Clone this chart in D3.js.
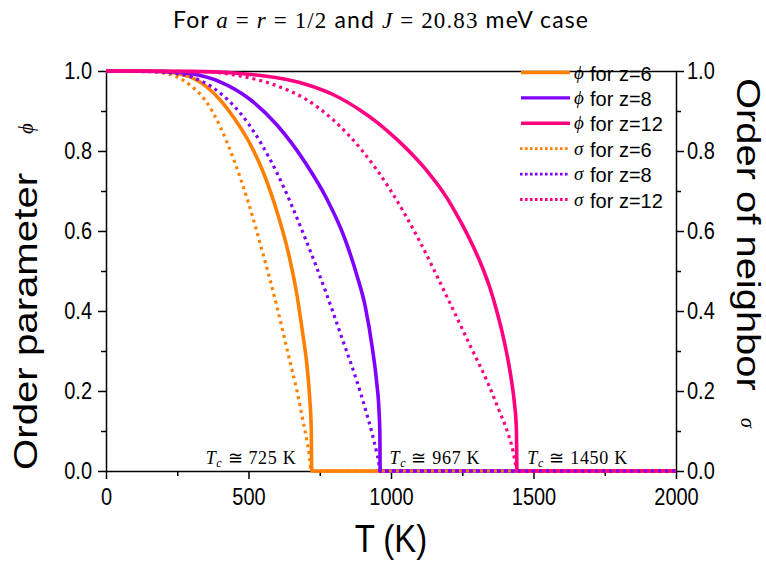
<!DOCTYPE html>
<html>
<head>
<meta charset="utf-8">
<script src="https://cdn.jsdelivr.net/npm/d3@7"></script>
<style>
body{margin:0;background:#fff;}
svg{display:block;}
.axis text{font-family:"Liberation Sans",Arial,sans-serif;font-size:20px;fill:#000;}
.axis path,.axis line{stroke:#000;stroke-width:1.5;}
</style>
</head>
<body>
<svg id="chart" width="766" height="561"></svg>
<script>
// values: [T in K, value]
const phiZ6 = [[0,1],[150,1],[200,0.998],[250,0.994],[300,0.984],[350,0.962],[400,0.928],[450,0.882],[500,0.825],[550,0.75],[600,0.648],[640,0.545],[670,0.44],[690,0.345],[705,0.265],[715,0.18],[720,0.11],[722,0],[2000,0]];
const sigmaZ6 = [[0,1],[150,0.999],[200,0.995],[250,0.985],[300,0.962],[350,0.925],[400,0.862],[450,0.775],[500,0.67],[550,0.545],[600,0.41],[640,0.29],[670,0.2],[690,0.13],[705,0.075],[715,0.03],[719,0],[2000,0]];
const phiZ8 = [[0,1],[200,0.999],[300,0.993],[400,0.973],[500,0.932],[600,0.865],[700,0.77],[775,0.68],[833,0.59],[880,0.49],[910,0.41],[935,0.305],[950,0.22],[958,0.15],[961,0.09],[962,0],[2000,0]];
const sigmaZ8 = [[0,1],[200,0.997],[300,0.985],[400,0.945],[500,0.868],[600,0.745],[700,0.58],[775,0.44],[833,0.322],[880,0.225],[910,0.155],[935,0.09],[950,0.045],[958,0.015],[960,0],[2000,0]];
const phiZ12 = [[0,1],[300,0.999],[450,0.995],[600,0.983],[700,0.967],[800,0.94],[900,0.898],[950,0.872],[1000,0.842],[1040,0.816],[1078,0.789],[1110,0.764],[1140,0.738],[1170,0.71],[1195,0.684],[1225,0.648],[1250,0.616],[1288,0.562],[1320,0.51],[1347,0.458],[1373,0.395],[1393,0.338],[1410,0.28],[1423,0.225],[1433,0.17],[1440,0.105],[1442,0],[2000,0]];
const sigmaZ12 = [[0,1],[350,0.998],[450,0.99],[600,0.963],[700,0.93],[800,0.876],[900,0.8],[1000,0.7],[1100,0.575],[1200,0.43],[1280,0.31],[1340,0.22],[1380,0.15],[1410,0.095],[1428,0.05],[1438,0.012],[1441,0],[2000,0]];

const tcValues = [725, 967, 1450];
const xMajor = [0, 500, 1000, 1500, 2000];
const xMinor = [250, 750, 1250, 1750];
const yMajor = [0, 0.2, 0.4, 0.6, 0.8, 1.0];
const yMinor = [0.1, 0.3, 0.5, 0.7, 0.9];

const orange = "#FF8000", purple = "#8000FF", pink = "#FF0080";
const series = [
    {data: phiZ6, color: orange, dotted: false, sym: "\u03D5", label: "for z=6"},
    {data: phiZ8, color: purple, dotted: false, sym: "\u03D5", label: "for z=8"},
    {data: phiZ12, color: pink, dotted: false, sym: "\u03D5", label: "for z=12"},
    {data: sigmaZ6, color: orange, dotted: true, sym: "\u03C3", label: "for z=6"},
    {data: sigmaZ8, color: purple, dotted: true, sym: "\u03C3", label: "for z=8"},
    {data: sigmaZ12, color: pink, dotted: true, sym: "\u03C3", label: "for z=12"}
];

const svg = d3.select('#chart');
const plotLeft = 106, plotRight = 676, plotTop = 71, plotBottom = 471;
const stretch = 1.15;
const serif = '"Liberation Serif","DejaVu Serif",serif';
const sans = '"Liberation Sans",Arial,sans-serif';

const x = d3.scaleLinear().domain([0, 2000]).range([plotLeft, plotRight]);
const y = d3.scaleLinear().domain([0, 1]).range([plotBottom, plotTop]);

// minor ticks
svg.append('g').attr('class','axis').attr('transform','translate(0,'+plotBottom+')')
    .call(d3.axisBottom(x).tickValues(xMinor).tickSize(5).tickFormat(''))
    .call(g => g.select('.domain').remove());
svg.append('g').attr('class','axis').attr('transform','translate('+plotLeft+',0)')
    .call(d3.axisLeft(y).tickValues(yMinor).tickSize(5).tickFormat(''))
    .call(g => g.select('.domain').remove());
svg.append('g').attr('class','axis').attr('transform','translate('+plotRight+',0)')
    .call(d3.axisRight(y).tickValues(yMinor).tickSize(5).tickFormat(''))
    .call(g => g.select('.domain').remove());

// major axes
svg.append('g').attr('class','axis').attr('transform','translate(0,'+plotBottom+')')
    .call(d3.axisBottom(x).tickValues(xMajor).tickSize(8).tickSizeOuter(0).tickPadding(7).tickFormat(d3.format('d')))
    .selectAll('text').attr('transform','scale(1,'+stretch+')');
svg.append('g').attr('class','axis').attr('transform','translate('+plotLeft+',0)')
    .call(d3.axisLeft(y).tickValues(yMajor).tickSize(8).tickSizeOuter(0).tickPadding(6).tickFormat(d3.format('.1f')))
    .selectAll('text').attr('transform','scale(1,'+stretch+')');
svg.append('g').attr('class','axis').attr('transform','translate('+plotRight+',0)')
    .call(d3.axisRight(y).tickValues(yMajor).tickSize(8).tickSizeOuter(0).tickPadding(3).tickFormat(d3.format('.1f')))
    .selectAll('text').attr('transform','scale(1,'+stretch+')');
svg.append('g').attr('class','axis').attr('transform','translate(0,'+plotTop+')')
    .call(d3.axisTop(x).tickValues([]).tickSizeOuter(0));

// curves
const line = d3.line().x(d => x(d[0])).y(d => y(d[1])).curve(d3.curveMonotoneX);
svg.append('g').selectAll('path').data(series).enter().append('path')
    .attr('d', d => line(d.data))
    .attr('fill','none')
    .attr('stroke', d => d.color)
    .attr('stroke-width', d => d.dotted ? 3.2 : 3.6)
    .attr('stroke-dasharray', d => d.dotted ? '3,4' : null);

// legend
const legend = svg.append('g').selectAll('g').data(series).enter().append('g')
    .attr('transform', (d, i) => 'translate(0,' + (72.5 + i * 25.4) + ')');
legend.append('line')
    .attr('x1', d => d.dotted ? 520 : 521).attr('x2', 570)
    .attr('stroke', d => d.color)
    .attr('stroke-width', d => d.dotted ? 2.8 : 3.4)
    .attr('stroke-dasharray', d => d.dotted ? '2.6,2.4' : null);
legend.append('text')
    .attr('x', 574).attr('y', 6)
    .style('font-family', serif).style('font-style','italic').style('font-size','19px')
    .text(d => d.sym);
legend.append('text')
    .attr('x', 590).attr('y', 8)
    .style('font-family', sans).style('font-size','20px')
    .text(d => d.label);

// Tc annotations
const tcLabels = svg.append('g').selectAll('text').data(tcValues).enter().append('text')
    .attr('x', (d, i) => i === 0 ? x(d) - 107 : x(d) + 8)
    .attr('y', 464)
    .attr('textLength', (d, i) => i === 2 ? 100 : 90)
    .attr('lengthAdjust','spacing')
    .style('font-family', serif).style('font-size','18px');
tcLabels.append('tspan').style('font-style','italic').text('T');
tcLabels.append('tspan').style('font-style','italic').style('font-size','12px').attr('dy', 3).text('c');
tcLabels.append('tspan').attr('dy', -3).text(d => ' \u2245 ' + d + ' K');

// axis titles
svg.append('text')
    .attr('transform','translate(391,552) scale(1,' + stretch + ')')
    .attr('text-anchor','middle')
    .style('font-family', sans).style('font-size','33px')
    .text('T (K)');
svg.append('text')
    .attr('transform','translate(37,470) scale(1,1.2) rotate(-90)')
    .style('font-family', sans).style('font-size','33.5px')
    .text('Order parameter');
svg.append('text')
    .attr('transform','translate(33,134) rotate(-90)')
    .style('font-family', serif).style('font-style','italic').style('font-size','21px')
    .text('\u03D5');
svg.append('text')
    .attr('transform','translate(737,78) scale(1,1.21) rotate(90)')
    .style('font-family', sans).style('font-size','33px')
    .text('Order of neighbor');
svg.append('text')
    .attr('transform','translate(741,418) rotate(90)')
    .style('font-family', serif).style('font-style','italic').style('font-size','20px')
    .text('\u03C3');

// title
const title = svg.append('text')
    .attr('x', 173).attr('y', 28)
    .attr('textLength', 415).attr('lengthAdjust','spacing')
    .style('font-family','Lato,"Open Sans",sans-serif').style('font-size','23px');
const parts = [['For ', false], ['a', true], [' = ', false, true], ['r', true], [' = 1/2', false, true], [' and ', false], ['J', true], [' = 20.83', false, true], [' meV case', false]];
parts.forEach(p => {
    const t = title.append('tspan').text(p[0]);
    if (p[1]) t.style('font-family', serif).style('font-style','italic');
    if (p[2]) t.style('font-family', serif);
});
</script>
</body>
</html>
